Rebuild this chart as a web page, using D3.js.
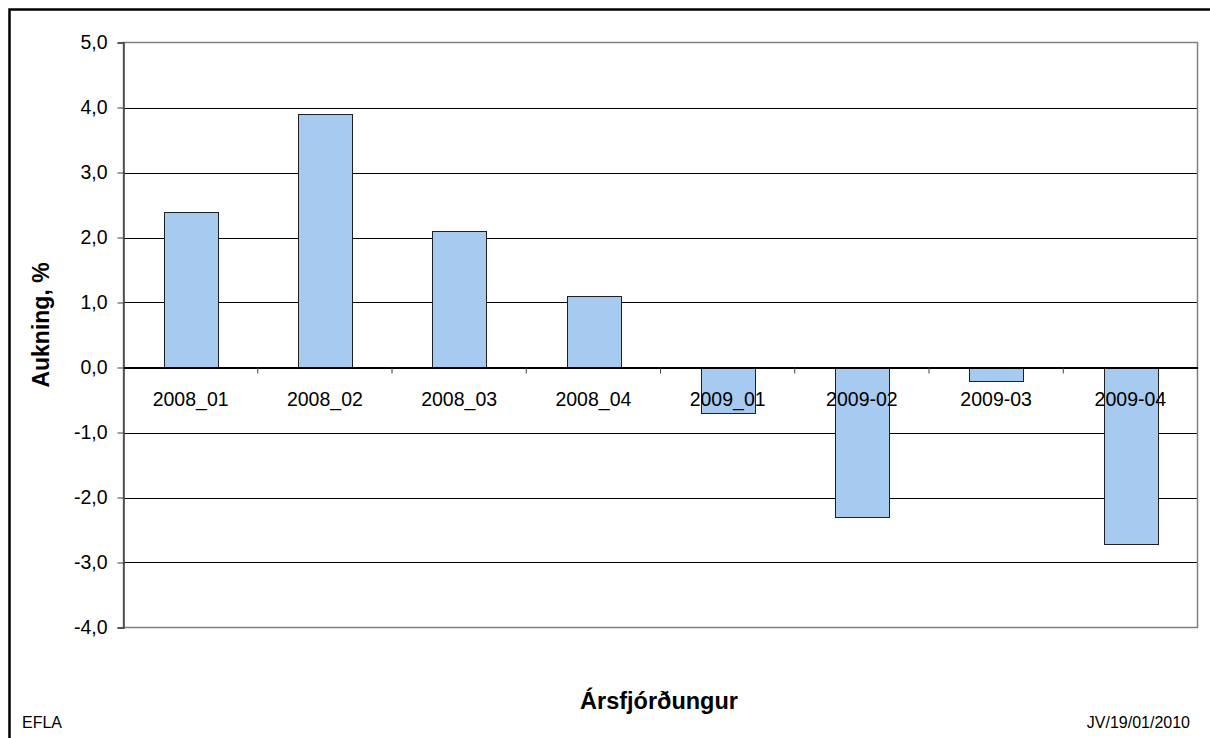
<!DOCTYPE html>
<html>
<head>
<meta charset="utf-8">
<script src="https://cdn.jsdelivr.net/npm/d3@7"></script>
<style>
  body { margin: 0; background: #fff; }
  svg text { font-family: "Liberation Sans", Arial, sans-serif; fill: #000; }
</style>
</head>
<body>
<svg id="chart" width="1210" height="738"></svg>
<script>
const categories = ["2008_01", "2008_02", "2008_03", "2008_04", "2009_01", "2009-02", "2009-03", "2009-04"];
const values = [2.4, 3.9, 2.1, 1.1, -0.7, -2.3, -0.2, -2.7];
const yTicks = [5, 4, 3, 2, 1, 0, -1, -2, -3, -4];

const svg = d3.select("#chart");
const plotLeft = 123.5, plotRight = 1197.5, plotTop = 42.5, plotBottom = 627.5;

// outer frame, runs off the right and bottom edges
svg.append("rect")
  .attr("x", 9.5).attr("y", 9.5)
  .attr("width", 1230).attr("height", 760)
  .attr("fill", "none").attr("stroke", "#000").attr("stroke-width", 2.5);

const x = d3.scaleBand()
  .domain(categories)
  .range([plotLeft, plotRight])
  .paddingInner(0.6)
  .paddingOuter(0.3);

const y = d3.scaleLinear().domain([-4, 5]).range([plotBottom, plotTop]);

// gridlines
svg.append("g")
  .selectAll("line")
  .data(yTicks.filter(d => d !== 5 && d !== -4 && d !== 0))
  .enter()
  .append("line")
  .attr("x1", plotLeft).attr("x2", plotRight)
  .attr("y1", d => Math.round(y(d)) + 0.5).attr("y2", d => Math.round(y(d)) + 0.5)
  .attr("stroke", "#000").attr("stroke-width", 1);

// plot border
svg.append("rect")
  .attr("x", plotLeft).attr("y", plotTop)
  .attr("width", plotRight - plotLeft).attr("height", plotBottom - plotTop)
  .attr("fill", "none").attr("stroke", "#808080").attr("stroke-width", 1.5);

// bars
svg.append("g")
  .selectAll("rect")
  .data(values)
  .enter()
  .append("rect")
  .attr("x", (d, i) => Math.round(x(categories[i])) + 0.5)
  .attr("width", Math.round(x.bandwidth()))
  .attr("y", d => Math.round(y(Math.max(0, d))) + 0.5)
  .attr("height", d => Math.round(Math.abs(y(d) - y(0))))
  .attr("fill", "#a6caf0")
  .attr("stroke", "#202020").attr("stroke-width", 1);

// y axis
const yAxis = svg.append("g")
  .attr("transform", `translate(${plotLeft},0)`)
  .call(d3.axisLeft(y).tickValues(yTicks).tickSize(6).tickPadding(10)
    .tickFormat(d => d3.format(".1f")(d).replace(".", ",").replace("−", "-")));
yAxis.select(".domain").attr("stroke", "#404040").attr("stroke-width", 1.5);
yAxis.selectAll(".tick line").attr("stroke", "#404040");
yAxis.selectAll("text").style("font-size", "19.5px").attr("font-family", null);

// zero line with category ticks
const xAxis = svg.append("g")
  .attr("transform", `translate(0,${y(0)})`)
  .call(d3.axisBottom(x).tickSize(0).tickPadding(25));
xAxis.select(".domain").attr("stroke", "#000").attr("stroke-width", 2);
xAxis.selectAll("text").style("font-size", "19.5px").attr("font-family", null);

const step = x.step();
svg.append("g")
  .selectAll("line")
  .data(d3.range(1, categories.length))
  .enter()
  .append("line")
  .attr("x1", d => plotLeft + d * step).attr("x2", d => plotLeft + d * step)
  .attr("y1", y(0)).attr("y2", y(0) + 6)
  .attr("stroke", "#404040");

// titles
svg.append("text")
  .attr("transform", "translate(49,325) rotate(-90)")
  .attr("text-anchor", "middle")
  .style("font-size", "23px").style("font-weight", "bold")
  .text("Aukning, %");

svg.append("text")
  .attr("x", 659).attr("y", 709)
  .attr("text-anchor", "middle")
  .style("font-size", "23.5px").style("font-weight", "bold")
  .text("Ársfjórðungur");

svg.append("text")
  .attr("x", 22).attr("y", 728)
  .style("font-size", "16px")
  .text("EFLA");

svg.append("text")
  .attr("x", 1190).attr("y", 728)
  .attr("text-anchor", "end")
  .style("font-size", "16px")
  .text("JV/19/01/2010");
</script>
</body>
</html>
